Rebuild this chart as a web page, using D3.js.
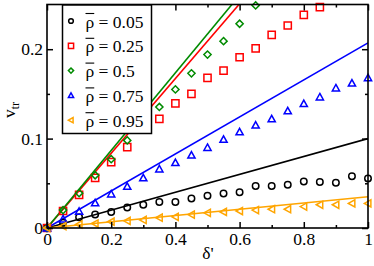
<!DOCTYPE html>
<html>
<head>
<meta charset="utf-8">
<script src="https://cdn.jsdelivr.net/npm/d3@7/dist/d3.min.js"></script>
<style>
  html, body { margin: 0; padding: 0; background: #fff; }
  svg { display: block; }
  text { font-family: "Liberation Serif", "Times New Roman", serif; }
</style>
</head>
<body>
<svg id="chart" width="374" height="266"></svg>
<script>
// ---- data ----
const deltaValues = [0, 0.05, 0.1, 0.15, 0.2, 0.25, 0.3, 0.35, 0.4, 0.45, 0.5,
                     0.55, 0.6, 0.65, 0.7, 0.75, 0.8, 0.85, 0.9, 0.95, 1.0];
const rho005 = [0, 0.006, 0.012, 0.015, 0.018, 0.023, 0.026, 0.029, 0.029, 0.033, 0.036,
                0.0385, 0.040, 0.047, 0.047, 0.0485, 0.052, 0.0515, 0.0505, 0.058, 0.0555];
const rho025 = [0, 0.019, 0.037, 0.056, 0.0737, 0.0904, 0.111, 0.122, 0.1395, 0.150, 0.168,
                0.176, 0.191, 0.201, 0.216, 0.2265, 0.2385, 0.247];
const rho05  = [0, 0.020, 0.039, 0.059, 0.077, 0.098, 0.117, 0.1354, 0.155, 0.173, 0.194,
                0.209, 0.2285, 0.249];
const rho075 = [0, 0.010, 0.0186, 0.028, 0.038, 0.0465, 0.056, 0.066, 0.073, 0.0815, 0.090,
                0.099, 0.1075, 0.115, 0.122, 0.131, 0.139, 0.1465, 0.1565, 0.162, 0.168];
const rho095 = [0, 0.002, 0.004, 0.005, 0.007, 0.008, 0.009, 0.0115, 0.0125, 0.015, 0.017,
                0.018, 0.019, 0.020, 0.021, 0.021, 0.024, 0.026, 0.026, 0.0275, 0.0275];
// theory lines: value at delta' = 1 (straight lines through origin)
const lineAtOne = { "0.05": 0.100, "0.25": 0.418, "0.5": 0.434, "0.75": 0.207, "0.95": 0.035 };
const seriesLabels = ["0.05", "0.25", "0.5", "0.75", "0.95"];
const xTickLabels = ["0", "0.2", "0.4", "0.6", "0.8", "1"];
const yTickLabels = ["0", "0.1", "0.2"];

// ---- layout ----
const svg = d3.select("#chart");
const x = d3.scaleLinear().domain([0, 1]).range([47, 368]);
const y = d3.scaleLinear().domain([0, 0.25]).range([228, 4.5]);

const series = [
  { label: "0.05", values: rho005, color: "#000000", shape: "circle" },
  { label: "0.25", values: rho025, color: "#ff0000", shape: "square" },
  { label: "0.5",  values: rho05,  color: "#008b00", shape: "diamond" },
  { label: "0.75", values: rho075, color: "#0000ff", shape: "triUp" },
  { label: "0.95", values: rho095, color: "#ffa500", shape: "triLeft" }
];

function markerPath(shape, s) {
  switch (shape) {
    case "square": return `M${-s},${-s}H${s}V${s}H${-s}Z`;
    case "diamond": return `M0,${-s}L${s},0L0,${s}L${-s},0Z`;
    case "triUp": return `M0,${-s}L${s},${s*0.8}L${-s},${s*0.8}Z`;
    case "triLeft": return `M${-s},0L${s*0.8},${-s}L${s*0.8},${s}Z`;
  }
  return "";
}
function drawMarker(g, shape, color, cx, cy, s, sw) {
  if (shape === "circle") {
    g.append("circle").attr("cx", cx).attr("cy", cy).attr("r", s * 0.9)
      .attr("fill", "none").attr("stroke", color).attr("stroke-width", sw);
  } else {
    g.append("path").attr("d", markerPath(shape, s))
      .attr("transform", `translate(${cx},${cy})`)
      .attr("fill", "none").attr("stroke", color).attr("stroke-width", sw);
  }
}

// clip for lines
svg.append("defs").append("clipPath").attr("id", "plotclip")
  .append("rect").attr("x", 47).attr("y", 4.5).attr("width", 321).attr("height", 223.5);

// lines
const lineGen = d3.line().x(d => x(d[0])).y(d => y(d[1]));
const lines = svg.append("g").attr("clip-path", "url(#plotclip)");
series.forEach(s => {
  lines.append("path")
    .attr("d", lineGen([[0, 0], [1, lineAtOne[s.label]]]))
    .attr("fill", "none").attr("stroke", s.color).attr("stroke-width", 1.6);
});

// markers
const marks = svg.append("g");
series.forEach(s => {
  s.values.forEach((v, i) => {
    drawMarker(marks, s.shape, s.color, x(deltaValues[i]), y(v), 3.6, 1.5);
  });
});

// axes
const fontSize = 17.5;
const xMajor = xTickLabels.map(Number);
const yMajor = yTickLabels.map(Number);
const xMinor = d3.range(0.1, 1.0, 0.2);
const yMinor = [0.05, 0.15];

function styleAxis(g) {
  g.selectAll(".domain").remove();
  g.selectAll("line").attr("stroke", "#000").attr("stroke-width", 1.5);
  g.selectAll("text").attr("font-size", fontSize).attr("fill", "#000")
    .style("font-family", '"Liberation Serif", "Times New Roman", serif');
}

svg.append("g").attr("transform", `translate(0,${y(0)})`)
  .call(d3.axisBottom(x).tickValues(xMajor).tickFormat((d, i) => xTickLabels[i]).tickSize(-6).tickPadding(5))
  .call(styleAxis);
svg.append("g").attr("transform", `translate(0,${y(0)})`)
  .call(d3.axisBottom(x).tickValues(xMinor).tickFormat("").tickSize(-3))
  .call(styleAxis);
svg.append("g").attr("transform", `translate(0,${y(0.25)})`)
  .call(d3.axisTop(x).tickValues(xMajor).tickFormat("").tickSize(-6))
  .call(styleAxis);
svg.append("g").attr("transform", `translate(0,${y(0.25)})`)
  .call(d3.axisTop(x).tickValues(xMinor).tickFormat("").tickSize(-3))
  .call(styleAxis);
svg.append("g").attr("transform", `translate(${x(0)},0)`)
  .call(d3.axisLeft(y).tickValues(yMajor).tickFormat((d, i) => yTickLabels[i]).tickSize(-6).tickPadding(4))
  .call(styleAxis);
svg.append("g").attr("transform", `translate(${x(0)},0)`)
  .call(d3.axisLeft(y).tickValues(yMinor).tickFormat("").tickSize(-3))
  .call(styleAxis);
svg.append("g").attr("transform", `translate(${x(1)},0)`)
  .call(d3.axisRight(y).tickValues(yMajor).tickFormat("").tickSize(-6))
  .call(styleAxis);
svg.append("g").attr("transform", `translate(${x(1)},0)`)
  .call(d3.axisRight(y).tickValues(yMinor).tickFormat("").tickSize(-3))
  .call(styleAxis);

// frame
svg.append("rect").attr("x", x(0)).attr("y", y(0.25))
  .attr("width", x(1) - x(0)).attr("height", y(0) - y(0.25))
  .attr("fill", "none").attr("stroke", "#000").attr("stroke-width", 1.6);

// axis titles
svg.append("text").attr("x", 208).attr("y", 259).attr("text-anchor", "middle")
  .attr("font-size", fontSize).text("δ'");
const yt = svg.append("text").attr("transform", "translate(15,110) rotate(-90)")
  .attr("text-anchor", "middle").attr("font-size", fontSize);
yt.append("tspan").text("v");
yt.append("tspan").attr("font-size", 12).attr("dy", 4).text("tr");

// legend
const leg = svg.append("g");
leg.append("rect").attr("x", 62.5).attr("y", 5).attr("width", 89).attr("height", 128.5)
  .attr("fill", "#fff").attr("stroke", "#000").attr("stroke-width", 1.5);
series.forEach((s, i) => {
  const cy = 21 + i * 24.8;
  drawMarker(leg, s.shape, s.color, 71, cy, 2.6, 1.5);
  const t = leg.append("text").attr("x", 85.5).attr("y", cy + 6.5).attr("font-size", fontSize);
  t.append("tspan").text("ρ");
  t.append("tspan").text(" = " + s.label);
  const w = t.node().getSubStringLength(0, 1);
  leg.append("line").attr("x1", 85.5).attr("x2", 85.5 + w)
    .attr("y1", cy - 7.5).attr("y2", cy - 7.5)
    .attr("stroke", "#000").attr("stroke-width", 1.1);
});
</script>
</body>
</html>
